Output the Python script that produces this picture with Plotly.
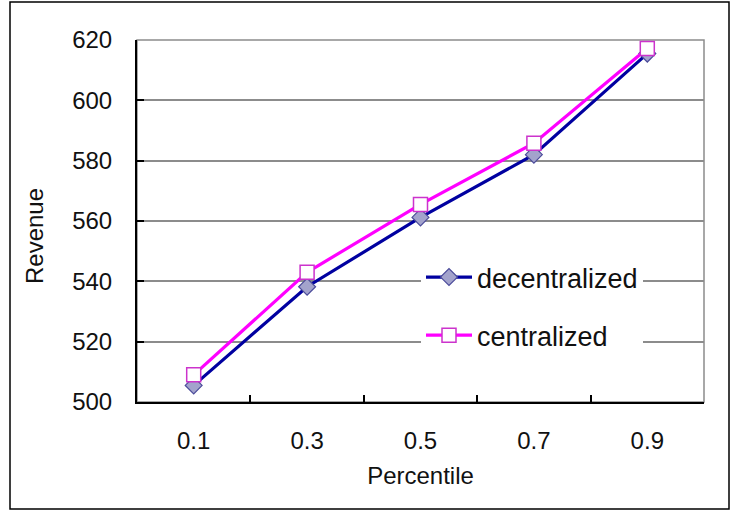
import plotly.graph_objects as go

percentiles = ["0.1", "0.3", "0.5", "0.7", "0.9"]
decentralized = [505.5, 538.2, 561.2, 582.0, 615.5]
centralized = [509.0, 543.0, 565.5, 585.8, 617.2]
y_ticks = [500, 520, 540, 560, 580, 600, 620]

W, H = 738, 514
L, R, T, B = 137, 704, 40, 402

def px(x):
    return (x - L) / (R - L)

def py(y):
    return (B - y) / (B - T)

FONT = "Liberation Sans, Arial, sans-serif"

fig = go.Figure()
fig.add_trace(go.Scatter(
    x=percentiles, y=decentralized, name="decentralized", mode="lines+markers",
    line=dict(color="#0000A0", width=3.2),
    marker=dict(symbol="diamond", size=13, color="#A3A3CC", line=dict(color="#4B4B9A", width=1.2)),
    legendgroup="a",
))
fig.add_trace(go.Scatter(
    x=percentiles, y=centralized, name="centralized", mode="lines+markers",
    line=dict(color="#FF00FF", width=3.2),
    marker=dict(symbol="square", size=14, color="white", line=dict(color="#CC33CC", width=1.5)),
    legendgroup="b",
))

fig.update_layout(
    width=W, height=H,
    margin=dict(l=L, r=W - R, t=T, b=H - B),
    paper_bgcolor="white", plot_bgcolor="white",
    font=dict(family=FONT, size=24, color="#111"),
    showlegend=True,
    legend=dict(
        x=px(421), y=py(253), xanchor="left", yanchor="top",
        bgcolor="white", borderwidth=0,
        font=dict(size=27, color="#111"),
        itemwidth=46, tracegroupgap=20,
    ),
    xaxis=dict(
        type="category", range=[-0.5, 4.5],
        showgrid=False, showline=True, linecolor="black", linewidth=2,
        ticks="inside", ticklen=7, tickwidth=2, tickcolor="black",
        tickson="boundaries", ticklabelstandoff=16,
        title=dict(text="Percentile", standoff=14, font=dict(size=24)),
        tickfont=dict(size=24),
    ),
    yaxis=dict(
        range=[500, 620], tickvals=y_ticks,
        showgrid=True, gridcolor="#8C8C8C", gridwidth=1.5,
        zeroline=False,
        showline=True, linecolor="black", linewidth=2,
        ticks="inside", ticklen=7, tickwidth=2, tickcolor="black",
        ticklabelstandoff=18,
        tickfont=dict(size=24),
    ),
    annotations=[
        dict(text="Revenue", textangle=-90, xref="paper", yref="paper",
             x=px(35), y=py(236), xanchor="center", yanchor="middle",
             showarrow=False, font=dict(size=24, color="#111")),
    ],
    shapes=[
        dict(type="rect", xref="paper", yref="paper", x0=0, x1=1, y0=0, y1=1,
             line=dict(color="#8C8C8C", width=1.5), layer="below"),
        dict(type="rect", xref="paper", yref="paper",
             x0=px(10), x1=px(729), y0=py(509), y1=py(2),
             line=dict(color="black", width=1.5), layer="below"),
    ],
)

fig.write_html("out.html")
